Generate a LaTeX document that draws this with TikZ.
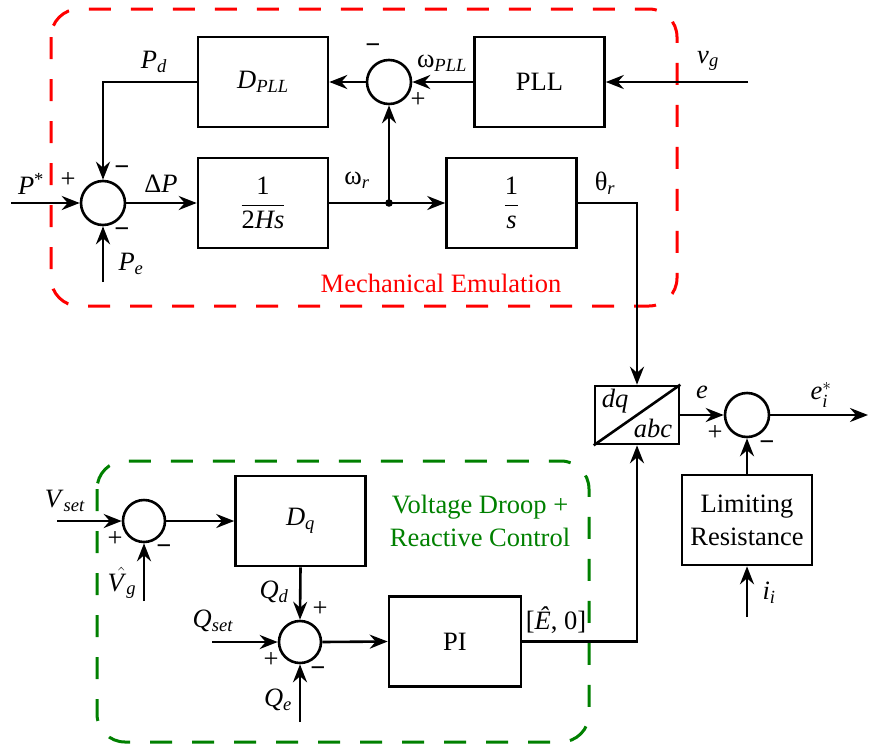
\documentclass[tikz,border=0pt]{standalone}
\usepackage{amsmath}
\usepackage{fontspec}
\setmainfont{Liberation Serif}
\usetikzlibrary{arrows.meta}
\definecolor{dgreen}{RGB}{0,128,0}
\newcommand{\vi}[1]{\textit{#1}}
\newcommand{\vsub}[1]{\textsubscript{\textit{#1}}}
\newcommand{\mi}[1]{\text{\textit{#1}}}
\begin{document}
\begin{tikzpicture}[x=1pt,y=-1pt,
 every node/.style={font=\fontsize{26.5}{31}\selectfont, inner sep=0pt},
 blk/.style={draw, line width=2.6pt, minimum width=130pt, minimum height=90pt, inner sep=2pt},
 sumj/.style={draw, circle, line width=2.6pt, minimum size=44pt},
 conn/.style={line width=2.6pt, -{Stealth[length=18pt,width=14pt,inset=6pt]}},
 wire/.style={line width=2.6pt},
 grp/.style={line width=3pt, dash pattern=on 22pt off 20pt, rounded corners=28pt},
 sgn/.style={font=\fontsize{26.5}{31}\selectfont\bfseries}]
\useasboundingbox (0,0) rectangle (869,744);

% group frames
\draw[grp, red] (51,9) rectangle (677,306);
\draw[grp, dgreen] (97,461) rectangle (589,742);
\node[red] (mechtxt) at (441,283) {Mechanical Emulation};
\node[dgreen, align=center, font=\fontsize{26.5}{33}\selectfont] (vdtxt) at (480,521) {Voltage Droop +\\Reactive Control};

% blocks
\node[blk] (dpll) at (263,82) {\vi{D}\vsub{PLL}};
\node[blk] (hs) at (263,203) {$\dfrac{\text{1}}{\text{2\textit{Hs}}}$};
\node[blk] (pll) at (539.5,82) {PLL};
\node[blk] (integ) at (511.5,203) {$\dfrac{\text{1}}{\text{\textit{s}}}$};
\node[blk, minimum width=84pt, minimum height=58pt] (dq) at (637,415) {};
\node[blk, align=center, font=\fontsize{26.5}{33}\selectfont] (lr) at (747,520) {Limiting\\Resistance};
\node[blk] (dqb) at (300.5,521) {\vi{D}\vsub{q}};
\node[blk, minimum width=132pt] (pi) at (455,641.5) {PI};

% summing junctions
\node[sumj] (s1) at (103,203) {};
\node[sumj] (s2) at (389,82) {};
\node[sumj] (s3) at (747,415) {};
\node[sumj, minimum size=42pt] (s4) at (144,521) {};
\node[sumj, minimum size=42pt] (s5) at (300,642) {};

% dq/abc
\draw[wire] (dq.south west) -- (dq.north east);
\node (dqtxt) at (615,401) {\vi{dq}};
\node (abctxt) at (653,428) {\vi{abc}};

% free ends
\coordinate (pin) at (11,203);
\coordinate (pein) at (103,282);
\coordinate (vgin) at (748,82);
\coordinate (jn) at (389,203);
\coordinate (eout) at (868,415);
\coordinate (iin) at (747,617);
\coordinate (vsetin) at (57,521);
\coordinate (vgh) at (144,601);
\coordinate (qsetin) at (212,642);
\coordinate (qein) at (300,722);

% connectors
\draw[conn] (pin) -- (s1.west);
\draw[conn] (pein) -- (s1.south);
\draw[conn] (dpll.west) -| (s1.north);
\draw[conn] (s1.east) -- (hs.west);
\draw[wire] (hs.east) -- (jn);
\draw[conn] (jn) -- (integ.west);
\draw[conn] (jn) -- (s2.south);
\fill (jn) circle (3.8pt);
\draw[conn] (pll.west) -- (s2.east);
\draw[conn] (s2.west) -- (dpll.east);
\draw[conn] (vgin) -- (pll.east);
\draw[conn] (integ.east) -| (dq.north);
\draw[conn] (pi.east) -| (dq.south);
\draw[conn] (dq.east) -- (s3.west);
\draw[conn] (lr.north) -- (s3.south);
\draw[conn] (iin) -- (lr.south);
\draw[conn] (s3.east) -- (eout);
\draw[conn] (vsetin) -- (s4.west);
\draw[conn] (vgh) -- (s4.south);
\draw[conn] (s4.east) -- (dqb.west);
\draw[conn] (dqb.south) -- (s5.north);
\draw[conn] (qsetin) -- (s5.west);
\draw[conn] (qein) -- (s5.south);
\draw[conn] (s5.east) -- (pi.west);

% labels
\node (lpstar) at (31,184) {\vi{P}\textsuperscript{*}};
\node (lpd) at (154,62) {\vi{P}\vsub{d}};
\node (ldp) at (161,184) {Δ\vi{P}};
\node (lpe) at (131,264) {\vi{P}\vsub{e}};
\node (lwr) at (357,180) {ω\vsub{r}};
\node (lwpll) at (442,63) {ω\vsub{PLL}};
\node (lvg) at (708,61) {\vi{v}\vsub{g}};
\node (lth) at (605,183) {θ\vsub{r}};
\node (le) at (702,392) {\vi{e}};
\node (lei) at (821,395) {$\mi{e}_{\mi{i}}^{*}$};
\node (lii) at (769,593) {\vi{i}\vsub{i}};
\node (lvset) at (65,501) {\vi{V}\vsub{set}};
\node (lvgh) at (122,583) {$\skew{6}{\hat}{\mi{V}}_{\mi{g}}$};
\node (lqd) at (274,592) {\vi{Q}\vsub{d}};
\node (lqset) at (213,621) {\vi{Q}\vsub{set}};
\node (lqe) at (278,700) {\vi{Q}\vsub{e}};
\node (lehat) at (556,620) {[\vi{\^{E}}, 0]};

% signs
\node (p1) at (68,180) {+};
\node[sgn] (m1a) at (122,171) {−};
\node[sgn] (m1b) at (122,233) {−};
\node[sgn] (m2) at (373,49) {−};
\node (p2) at (418,100) {+};
\node (p3) at (715,433) {+};
\node[sgn] (m3) at (767,446) {−};
\node (p4) at (115,539) {+};
\node[sgn] (m4) at (164,550) {−};
\node (p5a) at (320,609) {+};
\node (p5b) at (271,660) {+};
\node[sgn] (m5) at (318,672) {−};
\end{tikzpicture}
\end{document}
